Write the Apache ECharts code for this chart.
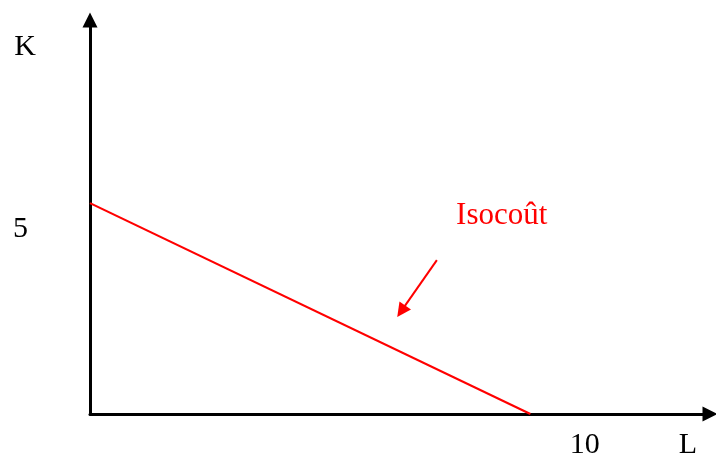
<!DOCTYPE html>
<html><head><meta charset="utf-8">
<script src="https://cdn.jsdelivr.net/npm/echarts@6/dist/echarts.min.js"></script>
<style>html,body{margin:0;padding:0;background:#fff}#c{width:716px;height:455px}</style>
</head><body><div id="c"></div>
<script>
// Isocost line: K intercept and L intercept (as drawn)
const isoLine = [[0, 5.7], [8.9, 0]];
const xTicks = [10];
const yTicks = [5];
const xName = 'L';
const yName = 'K';
const lineLabel = 'Isocoût';
const labelPos = [8.32, 5.36];
const arrowFrom = [7.01, 4.16];
const arrowTo = [6.29, 2.78];

const font = 'Liberation Serif, Times New Roman, serif';
const chart = echarts.init(document.getElementById('c'));
chart.setOption({
  animation: false,
  grid: {left: 90, right: 6, top: 20, bottom: 41, outerBoundsMode: 'none', containLabel: false},
  xAxis: {
    type: 'value', min: 0, max: 12.53,
    name: xName, nameLocation: 'end', nameGap: -22, nameMoveOverlap: false,
    nameTextStyle: {fontFamily: font, fontSize: 30, color: '#000', align: 'center', verticalAlign: 'top', padding: [16, 0, 0, 0]},
    axisLine: {lineStyle: {color: '#000', width: 3}, symbol: ['none', 'triangle'], symbolSize: [15, 15]},
    axisTick: {show: false}, splitLine: {show: false},
    axisLabel: {customValues: xTicks, margin: 16, fontFamily: font, fontSize: 30, color: '#000'}
  },
  yAxis: {
    type: 'value', min: 0, max: 10.65,
    name: yName, nameLocation: 'end', nameGap: -27, nameMoveOverlap: false,
    nameTextStyle: {fontFamily: font, fontSize: 30, color: '#000', align: 'center', verticalAlign: 'middle', padding: [0, 130, 0, 0]},
    axisLine: {lineStyle: {color: '#000', width: 3}, symbol: ['none', 'triangle'], symbolSize: [15, 15]},
    axisTick: {show: false}, splitLine: {show: false},
    axisLabel: {customValues: yTicks, margin: 62, fontFamily: font, fontSize: 30, color: '#000'}
  },
  series: [{
    type: 'line', data: isoLine, symbol: 'none',
    lineStyle: {color: '#ff0000', width: 2.2},
    markPoint: {
      symbol: 'circle', symbolSize: 0,
      label: {show: true, formatter: lineLabel, color: '#ff0000', fontFamily: font, fontSize: 31, position: 'inside'},
      data: [{coord: labelPos}]
    },
    markLine: {
      silent: true, symbol: ['none', 'triangle'], symbolSize: [14, 14],
      lineStyle: {color: '#ff0000', width: 2, type: 'solid'},
      label: {show: false},
      data: [[{coord: arrowFrom}, {coord: arrowTo}]]
    }
  }]
});
</script></body></html>
